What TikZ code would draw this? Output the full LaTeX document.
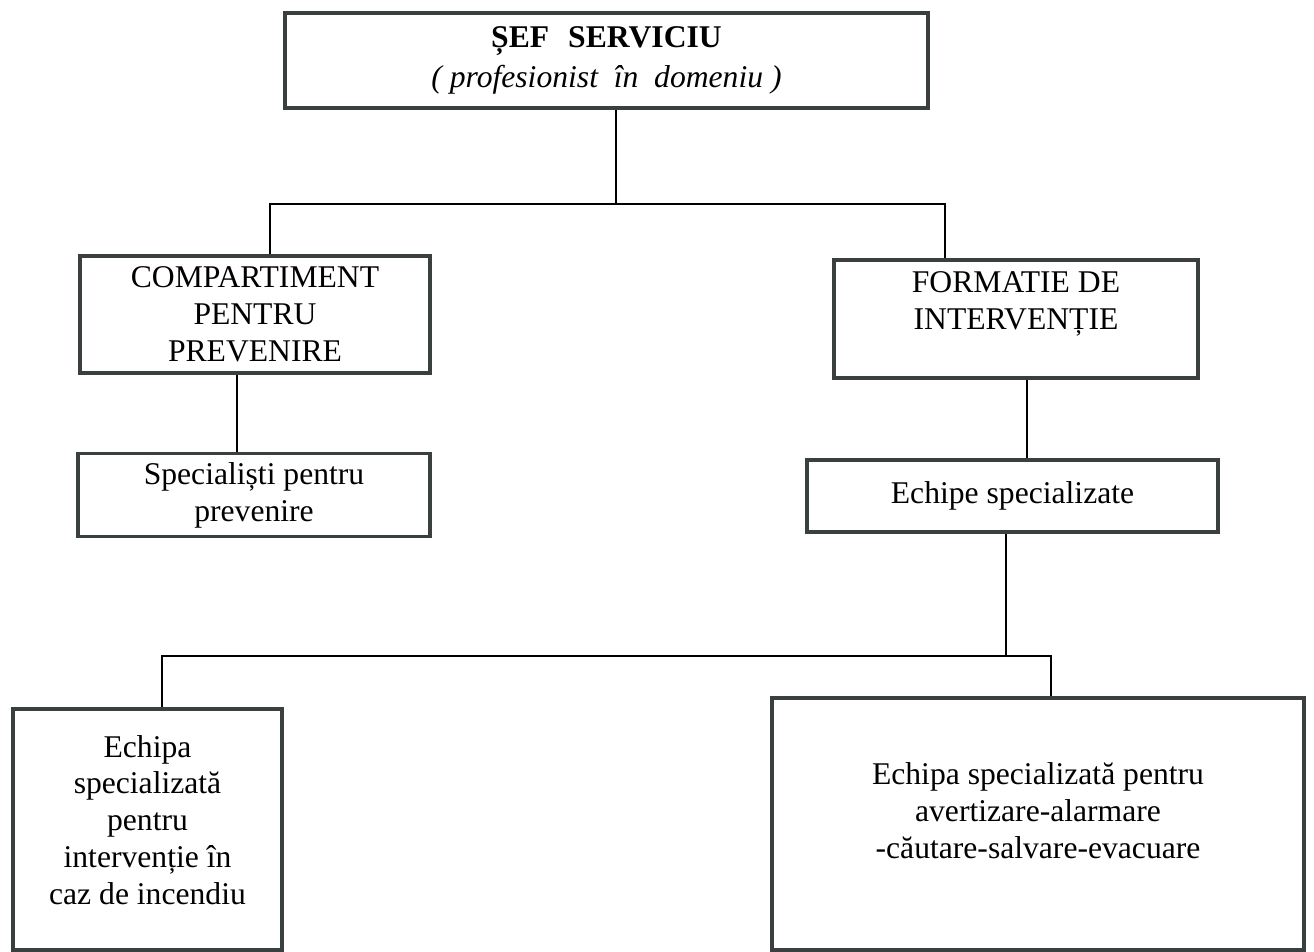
\documentclass[tikz,border=0pt]{standalone}
\usepackage{fontspec}
\setmainfont{Liberation Serif}
\usepackage{xcolor}
\usepackage{tikz}
\usetikzlibrary{positioning}

\definecolor{boxgray}{HTML}{3A3F3F}

\begin{document}
\begin{tikzpicture}[x=0.02cm, y=-0.02cm, % one unit = one pixel of the slide
    font=\fontsize{18}{21}\selectfont,
    box/.style={draw=boxgray, line width=2.2pt, align=center, inner sep=2pt},
    link/.style={draw=black, line width=0.8pt}]
        \useasboundingbox (0,0) rectangle (1314,952);

        % Boxes of the chart
        \node[box, minimum width=12.86cm, minimum height=1.9cm] (sef) at (606.5,60.5)
            {\textbf{ȘEF\hspace{0.6em}SERVICIU}\\[2pt] \textit{(~profesionist~~în~~domeniu~)}};
        \node[box, minimum width=7cm, minimum height=2.34cm] (comp) at (255,314.5)
            {COMPARTIMENT\\PENTRU\\PREVENIRE};
        \node[box, minimum width=7.28cm, minimum height=2.36cm] (form) at (1016,319)
            {FORMATIE DE\\INTERVENȚIE\\\mbox{}};
        \node[box, minimum width=7.04cm, minimum height=1.66cm] (spec) at (254,495)
            {Specialiști pentru\\prevenire};
        \node[box, minimum width=8.22cm, minimum height=1.44cm] (echipe) at (1012.5,496)
            {Echipe specializate};
        \node[box, minimum width=5.38cm, minimum height=4.82cm] (incendiu) at (147.5,829.5)
            {Echipa\\specializată\\pentru\\intervenție în\\caz de incendiu\\[-10pt]\mbox{}};
        \node[box, minimum width=10.64cm, minimum height=5.04cm] (alarmare) at (1038,824)
            {Echipa specializată pentru\\avertizare-alarmare\\-căutare-salvare-evacuare\\[-6pt]\mbox{}};

        % Junction points of the connectors
        \coordinate (top) at (616,204);
        \coordinate (topL) at (270,204);
        \coordinate (topR) at (945,204);
        \coordinate (compX) at (237,0);
        \coordinate (formX) at (1027,0);
        \coordinate (low) at (1006,656);
        \coordinate (lowL) at (162,656);
        \coordinate (lowR) at (1051,656);

        % Connectors
        \draw[link] (sef.south -| top) -- (top);
        \draw[link] (topL |- comp.north) -- (topL) -- (topR) -- (topR |- form.north);
        \draw[link] (compX |- comp.south) -- (compX |- spec.north);
        \draw[link] (formX |- form.south) -- (formX |- echipe.north);
        \draw[link] (low |- echipe.south) -- (low);
        \draw[link] (lowL |- incendiu.north) -- (lowL) -- (lowR) -- (lowR |- alarmare.north);
    \end{tikzpicture}
\end{document}
